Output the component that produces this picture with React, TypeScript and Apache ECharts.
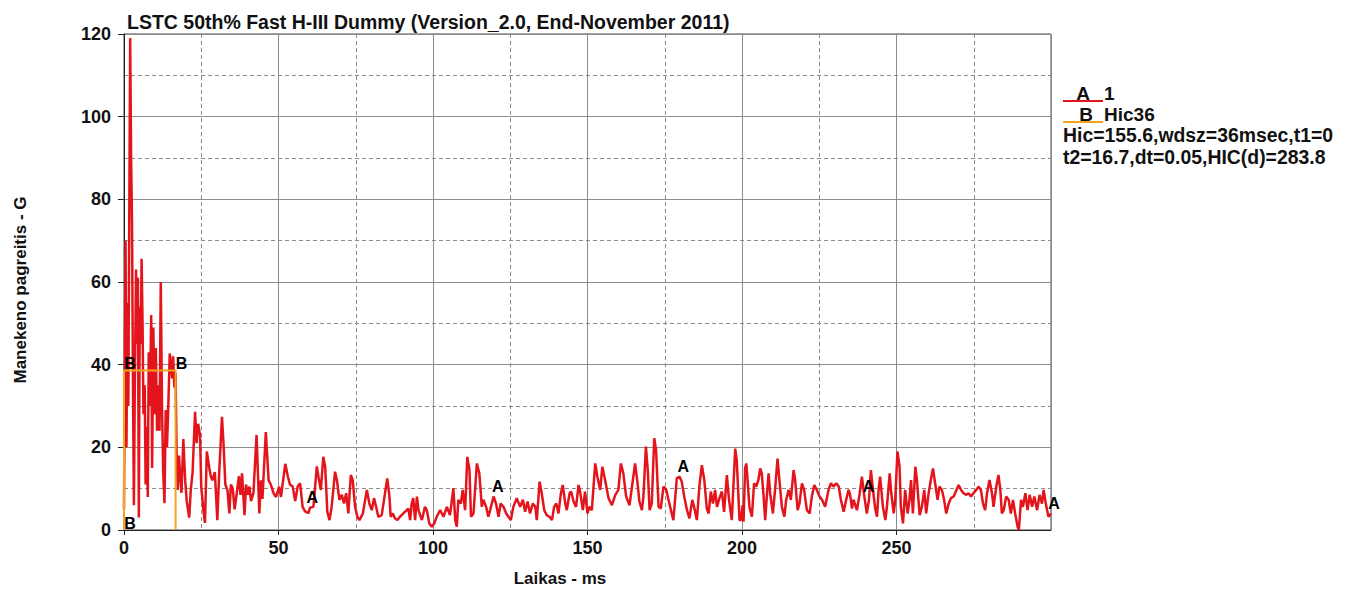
import React, { useEffect, useRef } from "react";
import * as echarts from "echarts";

const chartTitle = "LSTC 50th% Fast H-III Dummy (Version_2.0, End-November 2011)";
const xAxisName = "Laikas - ms";
const yAxisName = "Manekeno pagreitis - G";

// [time ms, acceleration G]
const pulseImpact: number[][] = [
  [0.0, 5], [0.3, 45], [0.5, 70], [0.8, 20], [1.1, 55], [1.4, 30], [1.7, 75], [2.0, 119],
  [2.3, 90], [2.6, 74], [2.9, 35], [3.2, 6], [3.5, 35], [3.9, 63], [4.2, 45], [4.5, 61],
  [4.8, 3], [5.1, 54], [5.4, 45], [5.7, 65.6], [6.0, 50], [6.3, 28], [6.7, 35], [7.0, 11],
  [7.3, 25], [7.7, 8], [8.0, 43], [8.4, 30], [8.8, 52], [9.1, 15], [9.5, 49], [9.9, 28],
  [10.3, 44], [10.7, 24], [11.1, 35], [11.5, 24], [11.9, 60], [12.3, 30], [12.7, 13.8],
  [13.1, 6.5], [13.5, 29], [13.9, 20], [14.3, 29], [14.8, 42.7], [15.2, 40], [15.6, 36.7],
  [15.9, 42], [16.3, 34.5], [16.7, 38], [17.0, 19.3], [17.4, 9.7], [17.8, 18], [18.1, 14],
];

const pulseEarly: number[][] = [
  [18.6, 9], [19.2, 22], [19.8, 12], [20.3, 7], [21.1, 3], [21.6, 9.6], [22.2, 14], [23.0, 28.6],
  [23.5, 21], [24.0, 25.7], [24.6, 23], [25.0, 10.5], [25.7, 4.8], [26.2, 1.7], [26.8, 19],
  [27.6, 15], [28.1, 13], [28.6, 12], [29.4, 14], [30.2, 2.4], [30.8, 13.7], [31.7, 27.4],
  [32.2, 21], [32.8, 11], [33.5, 9.6], [34.1, 4], [34.6, 11], [35.2, 10], [35.8, 5], [36.5, 9],
  [37.2, 13], [37.7, 8.5], [38.2, 13.7], [39.0, 3.6], [39.5, 11], [40.1, 8.5], [40.6, 10.5],
  [41.1, 7], [41.9, 9], [42.9, 23], [43.8, 4], [44.3, 12], [44.8, 7.5], [45.9, 23.7], [46.8, 12],
  [47.5, 11], [48.4, 8.9], [49.2, 8], [50.2, 10.5], [50.8, 8], [52.2, 16], [53.0, 13], [53.7, 11],
  [54.6, 10.5], [55.4, 7], [56.2, 10.5],
];

const pulseMid: number[][] = [
  [57.0, 11.3], [57.8, 5.6], [58.6, 4.5], [59.7, 4.1], [60.2, 5.4], [61.3, 5.6], [62.4, 15.4],
  [62.9, 13], [63.7, 9.7], [64.5, 17.7], [65.1, 15.3], [65.8, 4.4], [66.5, 2.4], [67.2, 5.6],
  [68.3, 14.1], [68.9, 12.1], [69.7, 7.3], [70.5, 8.5], [71.2, 6.4], [71.9, 8.9], [72.6, 4.0],
  [73.4, 13.3], [74.0, 12.1], [74.8, 5.6], [75.5, 3.2], [76.2, 2.4], [77.3, 4.0], [78.6, 9.7],
  [79.4, 6.4], [80.2, 4.8], [80.9, 7.7], [81.6, 5.6], [82.3, 3.2], [83.4, 3.6], [85.2, 12.5],
  [85.9, 8.1], [86.3, 3.2], [87.0, 4.0], [87.7, 2.8], [88.5, 2.4], [89.3, 3.2], [90.4, 4.0],
  [91.5, 4.8], [92.0, 5.2], [92.6, 2.4], [93.1, 6.4], [93.6, 7.7], [94.2, 2.4], [94.8, 8.1],
  [95.3, 4.8], [96.4, 2.4], [97.4, 5.6], [98.0, 4.8], [98.8, 1.6], [99.6, 0.8], [100.4, 1.6],
  [101.2, 3.2], [102.3, 4.8], [103.4, 3.2], [104.5, 5.6], [105.5, 3.6], [106.6, 10.1],
  [107.2, 2.4], [107.7, 0.8], [108.2, 7.3], [109.0, 6.4], [109.6, 9.7], [110.4, 4.8],
  [111.1, 17.7], [111.8, 14.5], [112.3, 3.2], [113.1, 4.0], [114.2, 16.1], [115.0, 13.7],
  [115.8, 5.6], [116.3, 7.3], [117.2, 5.6], [117.9, 3.2], [118.5, 4.8], [119.6, 8.1],
  [120.4, 6.4], [121.2, 3.2], [121.9, 6.4], [122.8, 5.6], [123.7, 4.0], [124.4, 3.2],
  [125.2, 2.4], [126.0, 5.6], [127.1, 7.7], [128.2, 5.6], [129.1, 7.3], [129.8, 4.4],
  [130.6, 6.9], [131.4, 4.0], [132.3, 6.4], [133.1, 5.6], [133.6, 2.4], [134.5, 11.7],
  [135.2, 8.9], [136.0, 4.8], [136.8, 3.6], [137.7, 3.2], [138.5, 2.4], [139.2, 5.6],
  [139.9, 6.4], [140.6, 4.0], [141.4, 8.9], [142.0, 10.9], [142.8, 6.4], [143.3, 4.8],
  [144.2, 8.9], [144.7, 9.3], [145.5, 6.9], [146.3, 5.6], [147.1, 10.9], [147.6, 9.3],
  [148.5, 4.8], [149.2, 9.3],
];

const pulseLate: number[][] = [
  [150.0, 4.0], [150.6, 5.6], [151.4, 4.8], [152.5, 16.1], [153.2, 12.9], [154.1, 9.7],
  [154.8, 15.3], [155.7, 12.1], [156.8, 7.7], [157.9, 6.0], [159.0, 8.5], [160.0, 9.7],
  [160.8, 16.1], [161.6, 13.7], [162.5, 8.1], [163.6, 6.0], [164.4, 10.5], [165.4, 16.1],
  [166.2, 11.3], [166.8, 6.9], [167.6, 4.8], [168.1, 8.1], [168.9, 20.2], [169.5, 14.5],
  [170.1, 4.8], [170.8, 6.4], [171.6, 22.2], [172.2, 19.3], [173.0, 5.6], [173.7, 5.2],
  [174.6, 10.5], [175.5, 9.7], [176.2, 7.3], [177.0, 4.8], [177.8, 2.4], [178.9, 12.5],
  [179.8, 12.9], [180.5, 11.7], [181.3, 8.1], [182.2, 4.8], [183.0, 2.8], [183.9, 7.3],
  [184.5, 5.6], [185.4, 2.4], [186.2, 10.5], [187.0, 15.7], [187.8, 12.1], [188.6, 5.2],
  [189.2, 4.0], [189.9, 9.3], [190.6, 6.4], [191.3, 9.7], [191.9, 5.6], [192.7, 7.7],
  [193.5, 9.3], [194.2, 4.4], [195.1, 13.3], [195.8, 7.3], [196.7, 2.4], [197.8, 19.7],
  [198.3, 16.9], [199.2, 2.4], [199.7, 2.4], [200.2, 6.0], [200.5, 2.0], [201.0, 14.9],
  [201.4, 16.1], [201.8, 12.1], [202.4, 5.6], [203.2, 3.2], [203.9, 11.3], [204.6, 10.5],
  [205.3, 12.1], [205.9, 14.9], [206.4, 13.7], [207.0, 8.1], [207.5, 2.4], [208.1, 8.9],
  [208.6, 13.7], [209.1, 8.9], [210.0, 4.0], [210.7, 9.7], [211.5, 17.3], [212.1, 12.1],
  [212.9, 5.6], [213.7, 3.2], [214.3, 7.3], [215.1, 9.7], [215.8, 7.3], [216.7, 14.5],
  [217.2, 12.1], [218.0, 4.8], [218.6, 6.4], [219.4, 11.3], [220.1, 9.7], [221.0, 4.8],
  [221.9, 4.0], [222.6, 8.1], [223.4, 10.9], [224.2, 9.7], [225.1, 8.1], [225.9, 7.3],
  [226.9, 5.6], [228.0, 9.7], [228.8, 11.3], [229.6, 10.5], [230.5, 11.3], [231.3, 10.5],
  [232.0, 7.3], [232.9, 4.4], [233.7, 7.3], [234.5, 9.7], [235.0, 8.5], [235.6, 5.2],
  [236.1, 7.3], [237.2, 4.8], [238.1, 8.9], [238.8, 12.9], [239.6, 8.1], [240.4, 4.0],
  [241.1, 7.3], [241.7, 14.5], [242.4, 9.7], [243.1, 5.2], [243.7, 3.2], [244.2, 9.7],
  [244.7, 12.9], [245.6, 5.6], [246.4, 2.4], [246.9, 5.6], [247.8, 13.7], [248.2, 9.7],
  [249.1, 4.0], [249.6, 7.3], [250.3, 19.0], [251.0, 15.3], [251.4, 5.6], [252.1, 1.6],
  [252.8, 9.7], [253.6, 4.0], [254.2, 7.3], [254.7, 12.1], [255.3, 4.0], [256.1, 15.3],
  [256.6, 12.1], [257.5, 3.6], [258.2, 5.6], [259.0, 9.7], [259.6, 4.0], [260.4, 8.9],
  [261.1, 12.1], [261.8, 14.9], [262.5, 11.3], [263.3, 7.3], [263.9, 10.5], [264.7, 9.7],
  [265.4, 7.3], [266.1, 4.0], [266.9, 6.4], [267.6, 7.7], [268.5, 8.1], [269.4, 9.7],
  [270.1, 10.9], [270.9, 9.7], [271.7, 8.9], [272.6, 8.5], [273.3, 8.9], [274.1, 8.1],
  [274.9, 8.9], [275.8, 9.7], [276.6, 10.5], [277.3, 9.7], [278.0, 6.4], [278.7, 4.8],
  [279.3, 8.9], [280.1, 12.1], [280.9, 8.9], [281.4, 5.6], [282.3, 10.5], [283.0, 13.3],
  [283.6, 9.7], [284.1, 4.0], [284.7, 4.8], [285.5, 8.1], [286.3, 7.3], [287.0, 4.0],
  [287.7, 7.3], [288.4, 4.0], [289.2, 0.8], [289.6, 0], [290.3, 7.3], [290.9, 5.6],
  [291.7, 8.9], [292.4, 4.8], [293.1, 8.5], [293.9, 5.6], [294.6, 8.1], [295.5, 4.8],
  [296.3, 8.5], [297.1, 6.4], [297.6, 9.7], [298.5, 5.6], [299.2, 3.2], [300.0, 4.0],
];

const pulse = [...pulseImpact, ...pulseEarly, ...pulseMid, ...pulseLate];

// HIC window
const hicT1 = 0;
const hicT2 = 16.7;
const hicLevel = 38.6;
const hicWindow: number[][] = [[hicT1, 0], [hicT1, hicLevel], [hicT2, hicLevel], [hicT2, 0]];
const hicMarks: number[][] = [[hicT1, hicLevel], [hicT2, hicLevel], [hicT1, 0]];

const markerTimesA = [60, 120, 180, 240, 300];

const legendRows = ["Hic=155.6,wdsz=36msec,t1=0", "t2=16.7,dt=0.05,HIC(d)=283.8"];

const FONT = "'Liberation Sans', Arial, sans-serif";
const RED = "#E3141B";
const ORANGE = "#F2A41E";
const INK = "#111111";

function valueAt(t: number): number {
  let best = pulse[0];
  for (const p of pulse) if (Math.abs(p[0] - t) < Math.abs(best[0] - t)) best = p;
  return best[1];
}

const boldText = (text: string, size: number) => ({
  text,
  fontSize: size,
  fontWeight: "bold",
  fontFamily: FONT,
  fill: INK,
  verticalAlign: "middle",
});

export default function App() {
  const ref = useRef<HTMLDivElement>(null);
  useEffect(() => {
    if (!ref.current) return;
    const chart = echarts.init(ref.current, undefined, { renderer: "svg" });
    const markersA = markerTimesA.map((t) => [t, valueAt(t)]);
    chart.setOption({
      animation: false,
      backgroundColor: "#fff",
      textStyle: { fontFamily: FONT },
      title: {
        text: chartTitle,
        left: 122,
        top: 7,
        textStyle: { fontFamily: FONT, fontSize: 19.5, fontWeight: "bold", color: INK },
      },
      grid: {
        left: 124,
        top: 34,
        right: 300,
        bottom: 61,
        outerBoundsMode: "none",
        containLabel: false,
        show: true,
        borderColor: "#444",
        borderWidth: 1,
        backgroundColor: "transparent",
      },
      xAxis: {
        type: "value",
        min: 0,
        max: 300,
        interval: 50,
        axisLine: { show: true, lineStyle: { color: "#222", width: 1 } },
        axisTick: { show: true, length: 5, lineStyle: { color: "#222" } },
        axisLabel: {
          showMaxLabel: false,
          margin: 9,
          fontSize: 18,
          fontWeight: "bold",
          color: INK,
          fontFamily: FONT,
        },
        splitLine: { show: true, lineStyle: { color: "#8c8c8c", width: 1 } },
        minorTick: { show: false, splitNumber: 2 },
        minorSplitLine: { show: true, lineStyle: { color: "#8c8c8c", type: [4, 3], width: 1 } },
      },
      yAxis: {
        type: "value",
        min: 0,
        max: 120,
        interval: 20,
        axisLine: { show: true, lineStyle: { color: "#222", width: 1 } },
        axisTick: { show: true, length: 6, lineStyle: { color: "#222" } },
        axisLabel: {
          margin: 13,
          fontSize: 18,
          fontWeight: "bold",
          color: INK,
          fontFamily: FONT,
        },
        splitLine: { show: true, lineStyle: { color: "#8c8c8c", width: 1 } },
        minorTick: { show: false, splitNumber: 2 },
        minorSplitLine: { show: true, lineStyle: { color: "#8c8c8c", type: [4, 3], width: 1 } },
      },
      series: [
        {
          name: "1",
          type: "line",
          data: pulse,
          symbol: "none",
          lineStyle: { color: RED, width: 2.5 },
          itemStyle: { color: RED },
          z: 3,
        },
        {
          name: "Hic36",
          type: "line",
          data: hicWindow,
          symbol: "none",
          lineStyle: { color: ORANGE, width: 2 },
          itemStyle: { color: ORANGE },
          z: 4,
        },
        {
          type: "scatter",
          data: markersA,
          symbol: "circle",
          symbolSize: 2,
          itemStyle: { color: "rgba(0,0,0,0)", opacity: 1 },
          z: 5,
          label: {
            show: true,
            formatter: "A",
            position: "top",
            distance: 1,
            offset: [3, 0],
            fontSize: 16,
            fontWeight: "bold",
            color: "#000",
            opacity: 1,
            fontFamily: FONT,
          },
        },
        {
          type: "scatter",
          data: hicMarks,
          symbol: "circle",
          symbolSize: 2,
          itemStyle: { color: "rgba(0,0,0,0)", opacity: 1 },
          z: 5,
          label: {
            show: true,
            formatter: "B",
            position: "top",
            distance: -2,
            offset: [6, 0],
            fontSize: 16,
            fontWeight: "bold",
            color: "#000",
            opacity: 1,
            fontFamily: FONT,
          },
        },
      ],
      graphic: [
        {
          type: "text",
          x: 20,
          y: 290,
          rotation: Math.PI / 2,
          style: { ...boldText(yAxisName, 17), align: "center" },
        },
        {
          type: "text",
          x: 560,
          y: 578,
          style: { ...boldText(xAxisName, 17), align: "center" },
        },
        { type: "line", shape: { x1: 1063, y1: 101, x2: 1103, y2: 101 }, style: { stroke: RED, lineWidth: 2 } },
        { type: "text", x: 1083, y: 93, style: { ...boldText("A", 19), align: "center" } },
        { type: "text", x: 1104, y: 93, style: boldText("1", 19) },
        { type: "line", shape: { x1: 1063, y1: 122, x2: 1103, y2: 122 }, style: { stroke: ORANGE, lineWidth: 2 } },
        { type: "text", x: 1086, y: 114, style: { ...boldText("B", 19), align: "center" } },
        { type: "text", x: 1104, y: 114, style: boldText("Hic36", 19) },
        ...legendRows.map((txt, i) => ({
          type: "text",
          x: 1063,
          y: 135 + i * 22,
          style: boldText(txt, 19.4),
        })),
      ],
    });
    return () => chart.dispose();
  }, []);
  return <div ref={ref} style={{ position: "fixed", left: 0, top: 0, width: 1351, height: 591 }} />;
}
